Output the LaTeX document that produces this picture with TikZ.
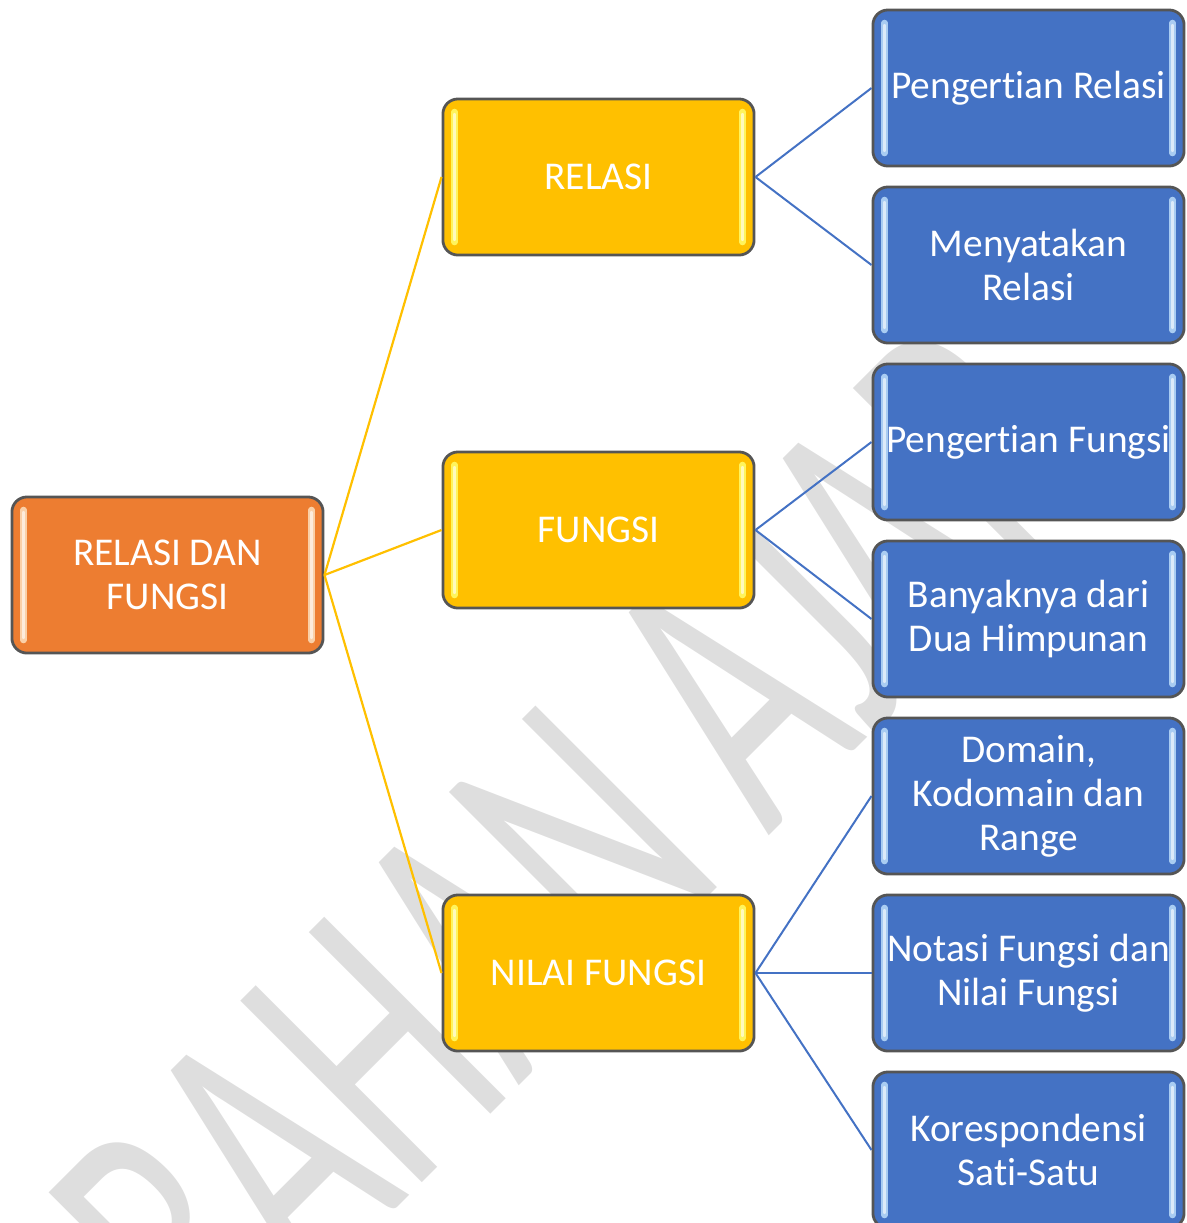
\documentclass[tikz,border=0pt]{standalone}
\usepackage{graphicx}
\usepackage{fontspec}
\newfontfamily\boxfont[RawFeature={-liga;-clig;-calt;-dlig}]{Carlito}
\newfontfamily\markfont{Carlito}

\definecolor{rootorange}{HTML}{ED7D31}
\definecolor{midgold}{HTML}{FFC000}
\definecolor{leafblue}{HTML}{4472C4}
\definecolor{edgegray}{HTML}{555555}
\definecolor{markgray}{HTML}{DEDEDE}
\definecolor{glowpeach}{HTML}{FAD0A8}
\definecolor{glowyellow}{HTML}{FFF45C}
\definecolor{glowblue}{HTML}{A9CCF2}

% keeps "t" and "i" as separate glyphs
\newcommand{\ti}{t\kern0pt i}

\tikzset{
  card/.style={draw=edgegray, line width=0.028cm, rounded corners=0.15cm,
    minimum width=3.11cm, minimum height=1.56cm, inner sep=0pt, align=center,
    text=white, font=\boxfont\fontsize{11.2}{12.5}\selectfont,
    path picture={
      \foreach \side/\dir in {west/1, east/-1}{
        \draw[line width=0.065cm, line cap=round, draw=#1]
          ([xshift=\dir*0.115cm, yshift=-0.13cm]path picture bounding box.north \side) --
          ([xshift=\dir*0.115cm, yshift=0.13cm]path picture bounding box.south \side);
        \draw[line width=0.022cm, line cap=round, draw=white, opacity=0.6]
          ([xshift=\dir*0.115cm, yshift=-0.15cm]path picture bounding box.north \side) --
          ([xshift=\dir*0.115cm, yshift=0.15cm]path picture bounding box.south \side);
      }
    }},
  rootcard/.style={card=glowpeach, fill=rootorange},
  midcard/.style={card=glowyellow, fill=midgold},
  leafcard/.style={card=glowblue, fill=leafblue},
  goldlink/.style={draw=midgold, line width=0.022cm},
  bluelink/.style={draw=leafblue, line width=0.02cm},
  watermark/.style={anchor=base west, rotate=45, inner sep=0pt, text=markgray,
    font=\markfont\fontsize{113.8}{120}\selectfont}
}

\begin{document}
\begin{tikzpicture}[x=0.01cm, y=-0.01cm]
  \useasboundingbox (0,0) rectangle (1187,1223);
  \clip (0,0) rectangle (1187,1223);

  % diagonal watermark behind the chart
  \node[watermark] (mark) at (218,1387) {\scalebox{0.61}[1]{BAHAN AJAR}};

  % root
  \node[rootcard] (root) at (167.5,575) {RELASI DAN\\FUNGSI};

  % middle level
  \node[midcard] (relasi) at (598.5,177) {RELASI};
  \node[midcard] (fungsi) at (598.5,530) {FUNGSI};
  \node[midcard] (nilai)  at (598.5,973) {NILAI FUNGSI};

  % leaves
  \node[leafcard] (l1) at (1028.5,88)   {Penger\ti an Relasi};
  \node[leafcard] (l2) at (1028.5,265)  {Menyatakan\\Relasi};
  \node[leafcard] (l3) at (1028.5,442)  {Penger\ti an Fungsi};
  \node[leafcard] (l4) at (1028.5,619)  {Banyaknya dari\\Dua Himpunan};
  \node[leafcard] (l5) at (1028.5,796)  {Domain,\\Kodomain dan\\Range};
  \node[leafcard] (l6) at (1028.5,973)  {Notasi Fungsi dan\\Nilai Fungsi};
  \node[leafcard] (l7) at (1028.5,1150) {Korespondensi\\Sa\ti-Satu};

  % connectors
  \draw[goldlink] (root.east) -- (relasi.west);
  \draw[goldlink] (root.east) -- (fungsi.west);
  \draw[goldlink] (root.east) -- (nilai.west);
  \draw[bluelink] (relasi.east) -- (l1.west);
  \draw[bluelink] (relasi.east) -- (l2.west);
  \draw[bluelink] (fungsi.east) -- (l3.west);
  \draw[bluelink] (fungsi.east) -- (l4.west);
  \draw[bluelink] (nilai.east) -- (l5.west);
  \draw[bluelink] (nilai.east) -- (l6.west);
  \draw[bluelink] (nilai.east) -- (l7.west);
\end{tikzpicture}
\end{document}
